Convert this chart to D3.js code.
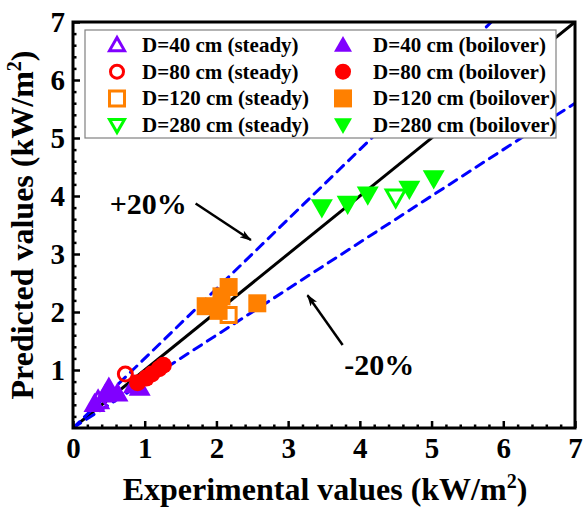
<!DOCTYPE html>
<html>
<head>
<meta charset="utf-8">
<script src="https://cdn.jsdelivr.net/npm/d3@7"></script>
<style>
  html, body { margin: 0; padding: 0; background: #fff; }
  svg { display: block; }
  text { font-family: "Liberation Serif", "Times New Roman", serif; font-weight: bold; fill: #000; }
</style>
</head>
<body>
<svg id="chart" width="584" height="509"></svg>
<script>
// Experimental vs predicted heat flux (kW/m2), [experimental, predicted]
const d40Steady    = [[0.35, 0.47]];
const d40Boilover  = [[0.30, 0.42], [0.45, 0.58], [0.50, 0.70], [0.62, 0.60], [0.85, 0.74], [0.93, 0.70]];
const d80Steady    = [[0.73, 0.93]];
const d80Boilover  = [[0.90, 0.78], [1.02, 0.86], [1.10, 0.93], [1.20, 1.02], [1.26, 1.08]];
const d120Steady   = [[2.17, 1.95]];
const d120Boilover = [[1.85, 2.10], [2.03, 2.02], [2.07, 2.27], [2.17, 2.43], [2.57, 2.15]];
const d280Steady   = [[4.50, 3.98]];
const d280Boilover = [[3.47, 3.80], [3.83, 3.86], [4.11, 4.02], [4.69, 4.12], [5.03, 4.30]];

const tickValues = [0, 1, 2, 3, 4, 5, 6, 7];
const parityRatios = [1.0, 1.2, 0.8];

const legendItems = [
  { label: "D=40 cm (steady)",     shape: "tri",  color: "#8000ff", filled: false },
  { label: "D=80 cm (steady)",     shape: "circ", color: "#ff0000", filled: false },
  { label: "D=120 cm (steady)",    shape: "sq",   color: "#ff8000", filled: false },
  { label: "D=280 cm (steady)",    shape: "dtri", color: "#00ff00", filled: false },
  { label: "D=40 cm (boilover)",   shape: "tri",  color: "#8000ff", filled: true },
  { label: "D=80 cm (boilover)",   shape: "circ", color: "#ff0000", filled: true },
  { label: "D=120 cm (boilover)",  shape: "sq",   color: "#ff8000", filled: true },
  { label: "D=280 cm (boilover)",  shape: "dtri", color: "#00ff00", filled: true }
];

const series = [
  { data: d40Boilover,  shape: "tri",  color: "#8000ff", filled: true },
  { data: d40Steady,    shape: "tri",  color: "#8000ff", filled: false },
  { data: d80Steady,    shape: "circ", color: "#ff0000", filled: false },
  { data: d80Boilover,  shape: "circ", color: "#ff0000", filled: true },
  { data: d120Boilover, shape: "sq",   color: "#ff8000", filled: true },
  { data: d120Steady,   shape: "sq",   color: "#ff8000", filled: false },
  { data: d280Boilover, shape: "dtri", color: "#00ff00", filled: true },
  { data: d280Steady,   shape: "dtri", color: "#00ff00", filled: false }
];

const svg = d3.select("#chart");
const m = { left: 73, right: 575, top: 22, bottom: 428 };

const x = d3.scaleLinear().domain([0, 7]).range([m.left, m.right]);
const y = d3.scaleLinear().domain([0, 7]).range([m.bottom, m.top]);

// Marker path generator, centred at the origin
function markerPath(shape, s) {
  const h = s / 2;
  if (shape === "tri")  return `M0,${-h}L${h},${h * 0.75}L${-h},${h * 0.75}Z`;
  if (shape === "dtri") return `M0,${h}L${h},${-h * 0.75}L${-h},${-h * 0.75}Z`;
  if (shape === "sq")   return `M${-h},${-h}H${h}V${h}H${-h}Z`;
  return d3.arc()({ innerRadius: 0, outerRadius: h, startAngle: 0, endAngle: 2 * Math.PI });
}
const markerSize = { tri: 22, dtri: 22, sq: 18, circ: 17 };

function drawMarker(g, shape, color, filled, cx, cy, sz) {
  const size = sz || markerSize[shape];
  const sw = 3;
  const s = filled ? size : size - sw;
  g.append("path")
    .attr("d", markerPath(shape, s))
    .attr("transform", `translate(${cx},${cy})`)
    .attr("fill", filled ? color : "none")
    .attr("stroke", filled ? "none" : color)
    .attr("stroke-width", sw)
    .attr("stroke-linejoin", "miter");
}

const clipId = "plotclip";
svg.append("clipPath").attr("id", clipId)
  .append("rect").attr("x", m.left).attr("y", m.top)
  .attr("width", m.right - m.left).attr("height", m.bottom - m.top);

// Parity line and ±20 % bands
const lineG = svg.append("g").attr("clip-path", `url(#${clipId})`);
parityRatios.forEach(r => {
  const xEnd = Math.min(7, 7 / r);
  lineG.append("line")
    .attr("x1", x(0)).attr("y1", y(0))
    .attr("x2", x(xEnd)).attr("y2", y(xEnd * r))
    .attr("stroke", r === 1 ? "#000" : "#0000ff")
    .attr("stroke-width", 3)
    .attr("stroke-dasharray", r === 1 ? null : "9,7")
    .attr("stroke-linecap", r === 1 ? "butt" : "round");
});

// Data points
const ptG = svg.append("g");
series.forEach(sr => {
  sr.data.forEach(([ex, pr]) => drawMarker(ptG, sr.shape, sr.color, sr.filled, x(ex), y(pr)));
});

// Axes with inward ticks
const xAxis = svg.append("g").attr("transform", `translate(0,${m.bottom})`)
  .call(d3.axisBottom(x).tickValues(tickValues).tickSize(-7).tickPadding(9).tickFormat(d3.format("d")));
const yAxis = svg.append("g").attr("transform", `translate(${m.left},0)`)
  .call(d3.axisLeft(y).tickValues(tickValues.slice(1)).tickSize(-7).tickPadding(8).tickFormat(d3.format("d")));
const minor = d3.range(0, 7.001, 0.2).filter(v => Math.abs(v - Math.round(v)) > 1e-6);
svg.append("g").attr("transform", `translate(0,${m.bottom})`)
  .call(d3.axisBottom(x).tickValues(minor).tickSize(-3.5).tickFormat(""));
svg.append("g").attr("transform", `translate(${m.left},0)`)
  .call(d3.axisLeft(y).tickValues(minor).tickSize(-3.5).tickFormat(""));
svg.selectAll(".domain").remove();
svg.selectAll(".tick line").attr("stroke", "#000").attr("stroke-width", 2.5);
[xAxis, yAxis].forEach(a => a.selectAll("text").style("font-size", "29px"));

// Plot frame
svg.append("rect")
  .attr("x", m.left).attr("y", m.top)
  .attr("width", m.right - m.left).attr("height", m.bottom - m.top)
  .attr("fill", "none").attr("stroke", "#000").attr("stroke-width", 3);

// Axis titles
const xt = svg.append("text").attr("x", 325).attr("y", 500).attr("text-anchor", "middle").style("font-size", "32px");
xt.append("tspan").text("Experimental values (kW/m");
xt.append("tspan").attr("dy", -12).style("font-size", "20px").text("2");
xt.append("tspan").attr("dy", 12).text(")");

const yt = svg.append("text").attr("transform", `translate(33,${(m.top + m.bottom) / 2}) rotate(-90)`)
  .attr("text-anchor", "middle").style("font-size", "32px");
yt.append("tspan").text("Predicted values (kW/m");
yt.append("tspan").attr("dy", -12).style("font-size", "20px").text("2");
yt.append("tspan").attr("dy", 12).text(")");

// Legend
const lg = svg.append("g");
lg.append("rect").attr("x", 85).attr("y", 30).attr("width", 471).attr("height", 108)
  .attr("fill", "#fff").attr("stroke", "#808080").attr("stroke-width", 1.2);
legendItems.forEach((it, i) => {
  const col = Math.floor(i / 4), row = i % 4;
  const sx = col === 0 ? 117 : 343;
  const tx = col === 0 ? 142 : 373;
  const cy = 45 + row * 26.7;
  drawMarker(lg, it.shape, it.color, it.filled, sx, cy, it.shape === "circ" ? 16 : 18);
  lg.append("text").attr("x", tx).attr("y", cy + 7).style("font-size", "21px").text(it.label);
});

// Band annotations
const arrowDefs = svg.append("defs");
arrowDefs.append("marker").attr("id", "ah").attr("viewBox", "0 0 12 8")
  .attr("refX", 11).attr("refY", 4).attr("markerWidth", 13).attr("markerHeight", 8)
  .attr("markerUnits", "userSpaceOnUse").attr("orient", "auto")
  .append("path").attr("d", "M0,0L12,4L0,8L3,4Z").attr("fill", "#000");

const annotations = [
  { text: "+20%", tx: 1.05, ty: 3.86, from: [1.71, 3.87], to: [2.48, 3.24] },
  { text: "-20%", tx: 4.27, ty: 1.08, from: [3.76, 1.43], to: [3.27, 2.29] }
];
annotations.forEach(a => {
  svg.append("text").attr("x", x(a.tx)).attr("y", y(a.ty) + 10)
    .attr("text-anchor", "middle").style("font-size", "30px").text(a.text);
  svg.append("line")
    .attr("x1", x(a.from[0])).attr("y1", y(a.from[1]))
    .attr("x2", x(a.to[0])).attr("y2", y(a.to[1]))
    .attr("stroke", "#000").attr("stroke-width", 2.5)
    .attr("marker-end", "url(#ah)");
});
</script>
</body>
</html>
